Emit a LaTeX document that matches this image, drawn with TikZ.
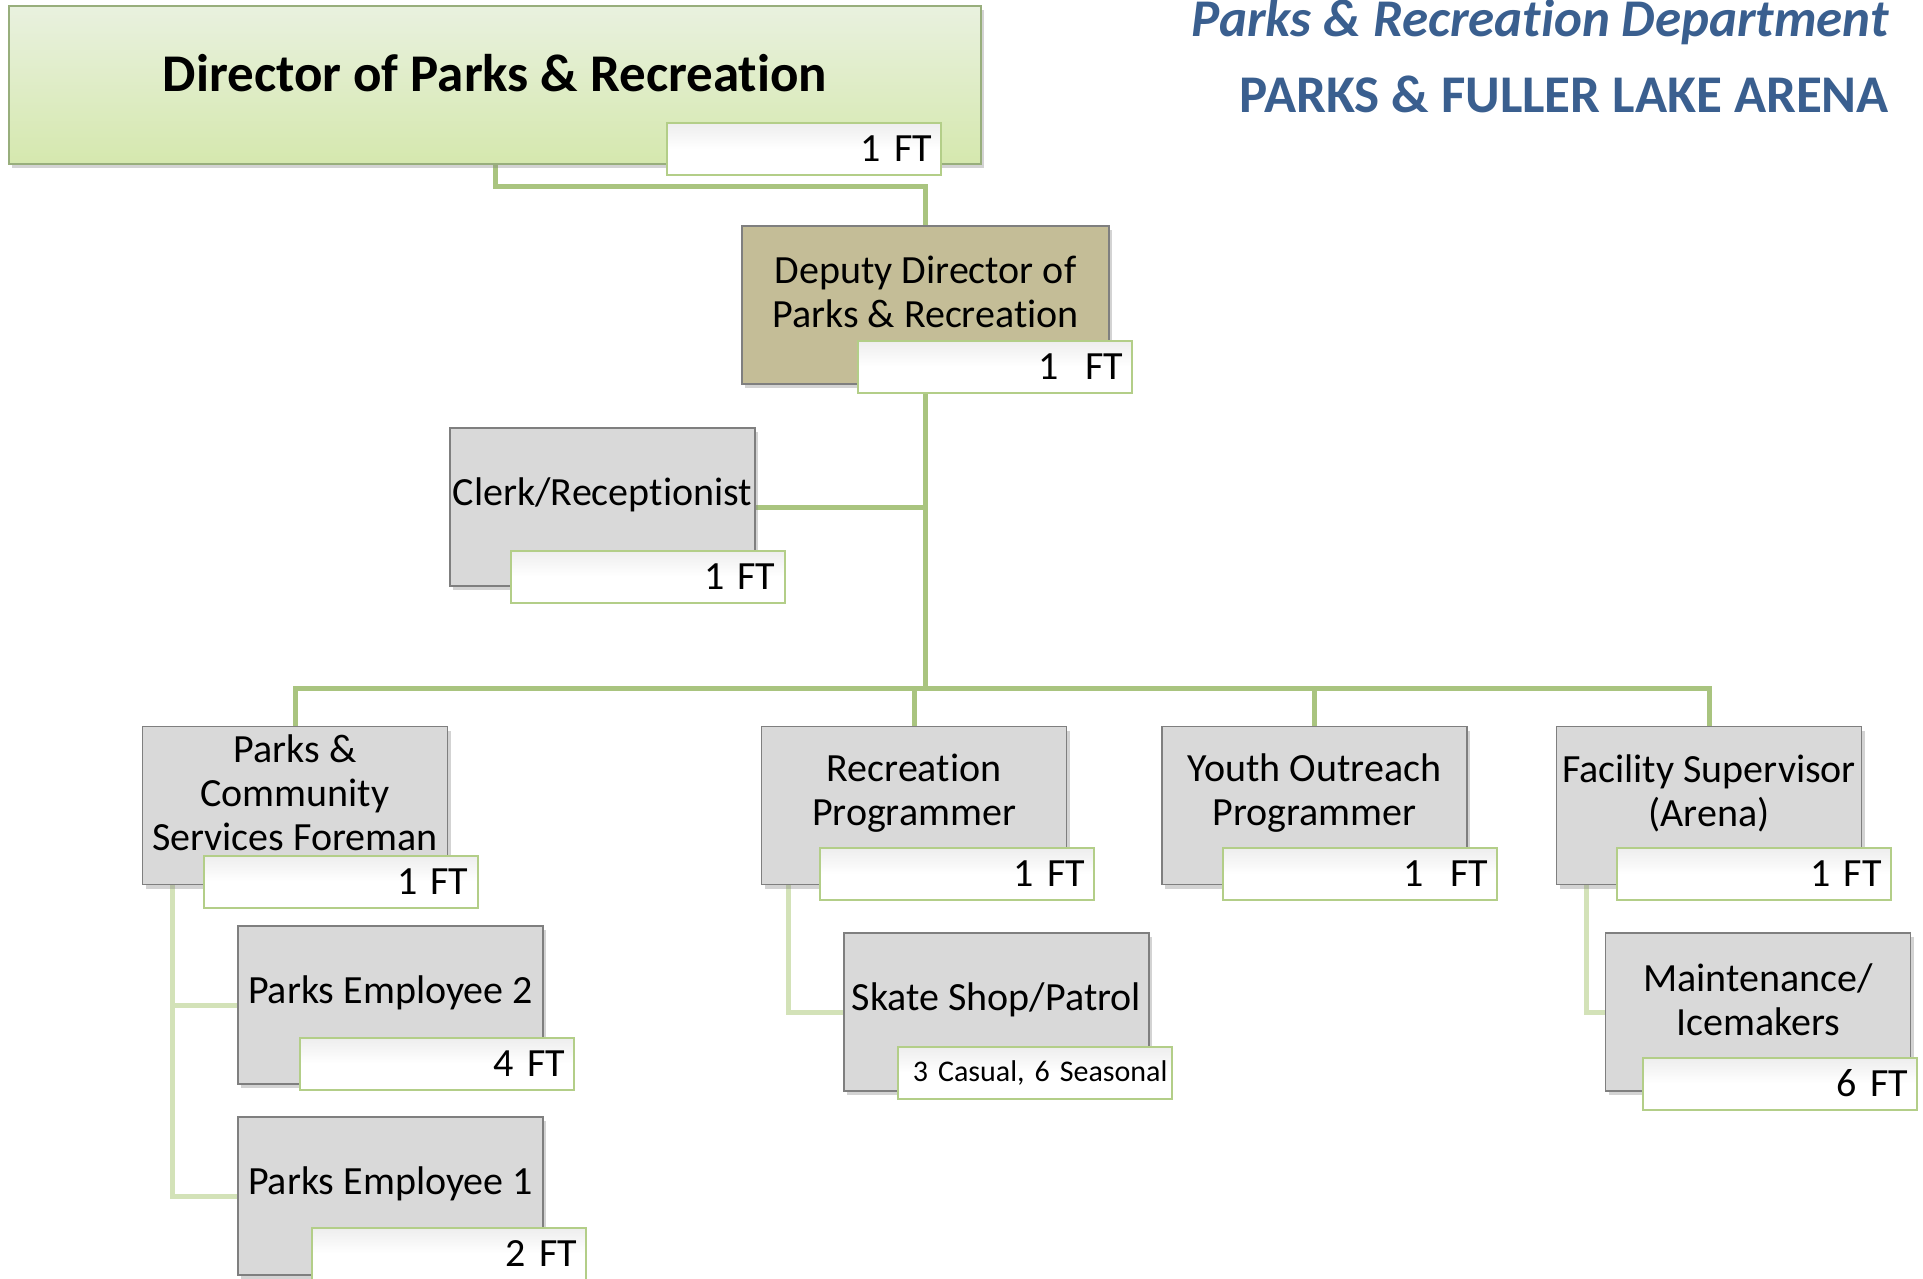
\documentclass[tikz,border=0pt]{standalone}
\usepackage{fontspec}
\setmainfont{Carlito}[Ligatures=NoCommon]
\usetikzlibrary{shadows,backgrounds}
\definecolor{connA}{HTML}{A9C47F}
\definecolor{connB}{HTML}{D3E2B8}
\definecolor{boxfill}{HTML}{D9D9D9}
\definecolor{boxline}{HTML}{7F7F7F}
\definecolor{depfill}{HTML}{C4BD97}
\definecolor{badgeline}{HTML}{B3CE88}
\definecolor{dirtop}{HTML}{E9F1DF}
\definecolor{dirbot}{HTML}{D5E8AE}
\definecolor{dirline}{HTML}{98AE7C}
\definecolor{titleblue}{HTML}{3A5F8F}
\frenchspacing
\tikzset{
  orgbox/.style={draw=boxline, line width=1.5, fill=boxfill, minimum width=305, minimum height=158,
    drop shadow={shadow xshift=3pt, shadow yshift=-4pt, opacity=0.35}},
  badge/.style={draw=badgeline, line width=2, top color=white!93!black, bottom color=white, middle color=white, minimum height=52, inner xsep=9pt,
    text width=256pt, align=right, font=\fontsize{40}{44}\selectfont},
  lbl/.style={align=center, font=\fontsize{40}{44}\selectfont, inner sep=0pt},
  connmain/.style={draw=connA, line width=5},
  connsub/.style={draw=connB, line width=5},
}
\begin{document}
\begin{tikzpicture}[x=1pt,y=-1pt]
\useasboundingbox (0,0) rectangle (1923,1278);

% titles
\node[anchor=base east, text=titleblue, inner sep=0pt, font=\fontsize{53}{60}\selectfont\bfseries\itshape] (t1) at (1889,36) {Parks \& Recreation Department};
\node[anchor=base east, text=titleblue, inner sep=0pt, font=\fontsize{53}{60}\selectfont\bfseries] (t2) at (1889,112) {PARKS \& FULLER LAKE ARENA};

% director
\node[draw=dirline, line width=1.5, top color=dirtop, bottom color=dirbot, minimum width=972, minimum height=158,
  drop shadow={shadow xshift=3pt, shadow yshift=-4pt, opacity=0.35}] (dir) at (495,85) {};
\node[inner sep=0pt, font=\fontsize{53}{60}\selectfont\bfseries] (dirt) at (495,73) {Director of Parks \& Recreation};
\node[badge] (dirb) at (804,149) {1 FT};

% deputy
\node[orgbox, fill=depfill, minimum width=367] (dep) at (925.5,305) {};
\node[lbl] (dept) at (925.5,292) {Deputy Director of\\Parks \& Recreation};
\node[badge] (depb) at (995,366.5) {1\ \ FT};

% clerk
\node[orgbox] (clerk) at (602.5,507) {};
\node[lbl] (clerkt) at (602.5,495) {Clerk/Receptionist};
\node[badge] (clerkb) at (647.5,576.5) {1 FT};

% second level
\node[orgbox] (fore) at (295,805.5) {};
\node[lbl] (foret) at (295,793) {Parks \&\\Community\\Services Foreman};
\node[badge] (foreb) at (340.5,881.5) {1 FT};

\node[orgbox] (rec) at (914,805.5) {};
\node[lbl] (rect) at (914,793) {Recreation\\Programmer};
\node[badge] (recb) at (957,874) {1 FT};

\node[orgbox] (youth) at (1314.5,805.5) {};
\node[lbl] (youtht) at (1314.5,793) {Youth Outreach\\Programmer};
\node[badge] (youthb) at (1360,874) {1\ \ FT};

\node[orgbox] (fac) at (1709,805.5) {};
\node[lbl] (fact) at (1709,793) {Facility Supervisor\\(Arena)};
\node[badge] (facb) at (1753.5,874) {1 FT};

% third level
\node[orgbox] (emp2) at (390.5,1005) {};
\node[lbl] (emp2t) at (390.5,993) {Parks Employee 2};
\node[badge] (emp2b) at (437,1063.5) {4 FT};

\node[orgbox] (emp1) at (390.5,1196) {};
\node[lbl] (emp1t) at (390.5,1184) {Parks Employee 1};
\node[badge] (emp1b) at (449,1253.5) {2 FT};

\node[orgbox] (skate) at (996.5,1012) {};
\node[lbl] (skatet) at (996.5,1000) {Skate Shop/Patrol};
\node[badge, font=\fontsize{30}{34}\selectfont, inner xsep=4pt, text width=266pt] (skateb) at (1034.5,1072.5) {3 Casual, 6 Seasonal};

\node[orgbox] (maint) at (1758,1012) {};
\node[lbl] (maintt) at (1758,1000) {Maintenance/\\Icemakers};
\node[badge] (maintb) at (1780,1083.5) {6 FT};

% connectors
\begin{scope}[on background layer]
\coordinate (bus) at (925.5,688);
\draw[connmain] (dir.south) -- ++(0,22) -| (dep.north);
\draw[connmain] (dep.south) -- (bus);
\draw[connmain] (clerk.east) -- (clerk.east -| dep.south);
\draw[connmain] (bus) -| (fore.north);
\draw[connmain] (bus) -| (rec.north);
\draw[connmain] (bus) -| (youth.north);
\draw[connmain] (bus) -| (fac.north);
\coordinate (foreleg) at ([xshift=31]fore.south west);
\draw[connsub] (foreleg) |- (emp1.west);
\draw[connsub] (emp2.west -| foreleg) -- (emp2.west);
\coordinate (recleg) at ([xshift=28]rec.south west);
\draw[connsub] (recleg) |- (skate.west);
\coordinate (facleg) at ([xshift=31]fac.south west);
\draw[connsub] (facleg) |- (maint.west);
\end{scope}
\end{tikzpicture}
\end{document}
